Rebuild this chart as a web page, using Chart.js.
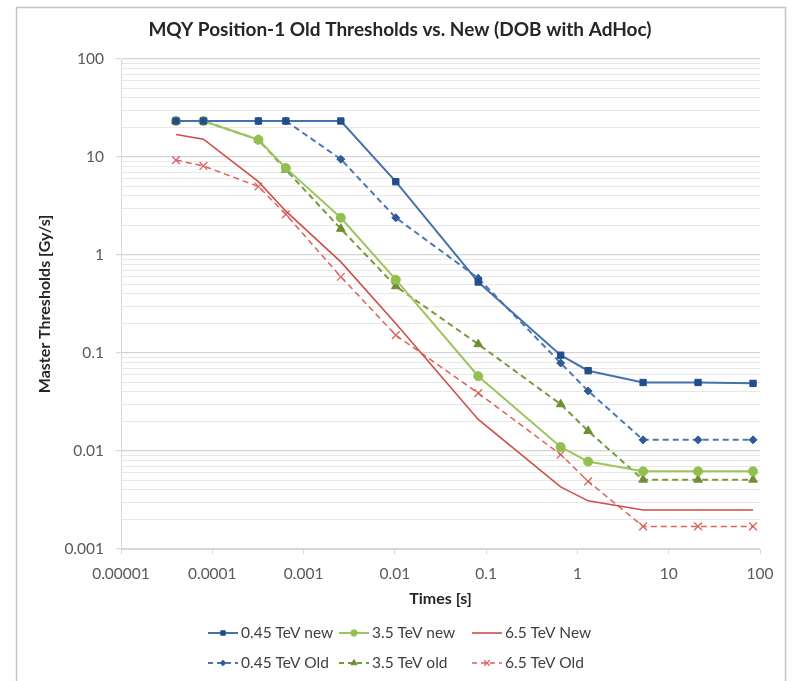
<!DOCTYPE html>
<html>
<head>
<meta charset="utf-8">
<script src="https://cdn.jsdelivr.net/npm/chart.js@4/dist/chart.umd.min.js"></script>
<style>
    html, body { margin: 0; padding: 0; background: #fff; }
    #wrap { position: relative; width: 792px; height: 681px; }
</style>
</head>
<body>
<div id="wrap"><canvas id="mqyChart" width="792" height="681"></canvas></div>
<script>
// Running sum integration times [s]
const times = [0.00004, 0.00008, 0.00032, 0.00064, 0.00256, 0.01024, 0.08192, 0.655, 1.31, 5.24, 20.97, 83.89];

// Master thresholds [Gy/s]
const tev045New = [23.3, 23.3, 23.3, 23.3, 23.3, 5.6, 0.53, 0.095, 0.066, 0.05, 0.05, 0.049];
const tev35New  = [23.3, 23.3, 15, 7.7, 2.4, 0.56, 0.058, 0.011, 0.0078, 0.0062, 0.0062, 0.0062];
const tev65New  = [17, 15.2, 5.6, 2.8, 0.85, 0.2, 0.021, 0.0043, 0.0031, 0.0025, 0.0025, 0.0025];
const tev045Old = [23.3, 23.3, 23.3, 23.3, 9.5, 2.4, 0.58, 0.079, 0.041, 0.013, 0.013, 0.013];
const tev35Old  = [23.3, 23.3, 15, 7.4, 1.85, 0.48, 0.123, 0.03, 0.016, 0.0051, 0.0051, 0.0051];
const tev65Old  = [9.3, 8.1, 5, 2.6, 0.6, 0.152, 0.039, 0.0092, 0.0049, 0.0017, 0.0017, 0.0017];

const seriesLabels = ['0.45 TeV new', '3.5 TeV new', '6.5 TeV New', '0.45 TeV Old', '3.5 TeV old', '6.5 TeV Old'];

// Axis ticks
const xTicks = [0.00001, 0.0001, 0.001, 0.01, 0.1, 1, 10, 100];
const xTickLabels = ['0.00001', '0.0001', '0.001', '0.01', '0.1', '1', '10', '100'];
const yDecades = [0.001, 0.01, 0.1, 1, 10, 100];
const yTickLabels = ['0.001', '0.01', '0.1', '1', '10', '100'];

const FONT = 'Lato, "Open Sans", sans-serif';
const TICK_COLOR = '#595959';

function toPoints(values) {
    return values.map((v, i) => ({ x: times[i], y: v }));
}

// y ticks: 1..9 per decade
function buildYTicks() {
    const ticks = [];
    for (let d = 0; d < yDecades.length; d++) {
        const base = yDecades[d];
        const last = d === yDecades.length - 1 ? 1 : 9;
        for (let m = 1; m <= last; m++) {
            ticks.push({ value: parseFloat((base * m).toPrecision(6)), major: m === 1 });
        }
    }
    return ticks;
}

const datasets = [
    { label: seriesLabels[0], data: toPoints(tev045New), borderColor: '#4571ac', backgroundColor: '#224e8d', pointBorderColor: '#224e8d', pointStyle: 'rect', pointRadius: 4.5, borderWidth: 2, borderDash: [] },
    { label: seriesLabels[1], data: toPoints(tev35New), borderColor: '#9cc65c', backgroundColor: '#92c04f', pointBorderColor: '#92c04f', pointStyle: 'circle', pointRadius: 4.5, borderWidth: 2, borderDash: [] },
    { label: seriesLabels[2], data: toPoints(tev65New), borderColor: '#cf4d4a', backgroundColor: '#cf4d4a', pointBorderColor: '#cf4d4a', pointStyle: 'line', pointRadius: 0, borderWidth: 1.6, borderDash: [] },
    { label: seriesLabels[3], data: toPoints(tev045Old), borderColor: '#4b78b4', backgroundColor: '#2f5b98', pointBorderColor: '#2f5b98', pointStyle: 'rectRot', pointRadius: 4, borderWidth: 2, borderDash: [6, 4] },
    { label: seriesLabels[4], data: toPoints(tev35Old), borderColor: '#789a3c', backgroundColor: '#6e8f34', pointBorderColor: '#6e8f34', pointStyle: 'triangle', pointRadius: 5, borderWidth: 2, borderDash: [6, 4] },
    { label: seriesLabels[5], data: toPoints(tev65Old), borderColor: '#db625e', backgroundColor: '#db625e', pointBorderColor: '#db625e', pointStyle: 'crossRot', pointRadius: 5.5, borderWidth: 1.5, borderDash: [6, 4] }
];
datasets.forEach(ds => {
    ds.fill = false;
    ds.tension = 0;
    ds.pointBorderWidth = ds.pointStyle === 'crossRot' ? 1.3 : 1;
    ds.pointHoverRadius = ds.pointRadius;
});

// Frame, title and axis titles
const decorPlugin = {
    id: 'decor',
    beforeDraw(chart) {
        const ctx = chart.ctx;
        ctx.save();
        ctx.fillStyle = '#ffffff';
        ctx.fillRect(0, 0, chart.width, chart.height);
        ctx.strokeStyle = '#c4c4c4';
        ctx.lineWidth = 1.5;
        ctx.strokeRect(16.5, 7.5, 769, 700);
        ctx.restore();
    },
    afterDraw(chart) {
        const ctx = chart.ctx;
        const area = chart.chartArea;
        ctx.save();
        ctx.fillStyle = '#262626';
        ctx.textAlign = 'center';
        ctx.textBaseline = 'middle';
        ctx.font = 'bold 19px ' + FONT;
        ctx.fillText('MQY Position-1 Old Thresholds vs. New (DOB with AdHoc)', 400, 30);

        ctx.font = 'bold 16px ' + FONT;
        ctx.fillText('Times [s]', (area.left + area.right) / 2, 599);

        ctx.translate(45, (area.top + area.bottom) / 2);
        ctx.rotate(-Math.PI / 2);
        ctx.fillText('Master Thresholds [Gy/s]', 0, 0);
        ctx.restore();
    }
};

// Two-row legend with line samples
const legendPlugin = {
    id: 'twoRowLegend',
    afterDraw(chart) {
        const ctx = chart.ctx;
        const colX = [208, 339, 472];
        const rowY = [633, 663];
        ctx.save();
        ctx.font = '15.5px ' + FONT;
        ctx.textBaseline = 'middle';
        ctx.textAlign = 'left';
        chart.data.datasets.forEach((ds, i) => {
            const x = colX[i % 3];
            const y = rowY[Math.floor(i / 3)];
            ctx.save();
            ctx.strokeStyle = ds.borderColor;
            ctx.lineWidth = ds.borderWidth;
            ctx.setLineDash(ds.borderDash.length ? [5, 4] : []);
            ctx.beginPath();
            ctx.moveTo(x, y);
            ctx.lineTo(x + 30, y);
            ctx.stroke();
            ctx.restore();
            if (ds.pointRadius > 0) {
                ctx.save();
                ctx.fillStyle = ds.backgroundColor;
                ctx.strokeStyle = ds.pointBorderColor;
                ctx.lineWidth = ds.pointBorderWidth;
                Chart.helpers.drawPoint(ctx, {
                    pointStyle: ds.pointStyle,
                    radius: ds.pointRadius * 0.7,
                    rotation: 0,
                    borderWidth: ds.pointBorderWidth
                }, x + 15, y);
                ctx.restore();
            }
            ctx.fillStyle = '#404040';
            ctx.fillText(ds.label, x + 33, y);
        });
        ctx.restore();
    }
};

const ctx = document.getElementById('mqyChart').getContext('2d');
window.mqyChart = new Chart(ctx, {
    type: 'line',
    data: { datasets: datasets },
    options: {
        responsive: false,
        animation: false,
        devicePixelRatio: 1,
        layout: {
            padding: { left: 30, right: 32, top: 59, bottom: 71 }
        },
        plugins: {
            legend: { display: false },
            title: { display: false },
            tooltip: { enabled: false }
        },
        scales: {
            x: {
                type: 'logarithmic',
                min: 0.00001,
                max: 100,
                afterBuildTicks(scale) {
                    scale.ticks = xTicks.map(v => ({ value: v, major: true }));
                },
                afterFit(scale) {
                    scale.height = 61;
                },
                border: { color: '#d9d9d9', width: 1 },
                grid: {
                    drawOnChartArea: false,
                    drawTicks: true,
                    tickLength: 5,
                    tickColor: '#d9d9d9'
                },
                ticks: {
                    autoSkip: false,
                    maxRotation: 0,
                    padding: 11,
                    color: TICK_COLOR,
                    font: { family: FONT, size: 15.5 },
                    callback(value) {
                        const idx = xTicks.findIndex(t => Math.abs(Math.log10(t) - Math.log10(value)) < 1e-6);
                        return idx >= 0 ? xTickLabels[idx] : '';
                    }
                }
            },
            y: {
                type: 'logarithmic',
                min: 0.001,
                max: 100,
                afterBuildTicks(scale) {
                    scale.ticks = buildYTicks();
                },
                afterFit(scale) {
                    scale.width = 91;
                },
                border: { color: '#d9d9d9', width: 1 },
                grid: {
                    drawTicks: true,
                    tickLength: 5,
                    color(c) {
                        return c.tick && c.tick.major ? '#d4d4d4' : '#e8e8e8';
                    },
                    lineWidth(c) {
                        return c.tick && c.tick.major ? 1.3 : 1;
                    },
                    tickColor(c) {
                        return c.tick && c.tick.major ? '#d9d9d9' : 'rgba(0,0,0,0)';
                    }
                },
                ticks: {
                    autoSkip: false,
                    padding: 12,
                    color: TICK_COLOR,
                    font: { family: FONT, size: 15.5 },
                    callback(value) {
                        const idx = yDecades.findIndex(t => Math.abs(Math.log10(t) - Math.log10(value)) < 1e-6);
                        return idx >= 0 ? yTickLabels[idx] : '';
                    }
                }
            }
        }
    },
    plugins: [decorPlugin, legendPlugin]
});
</script>
</body>
</html>
